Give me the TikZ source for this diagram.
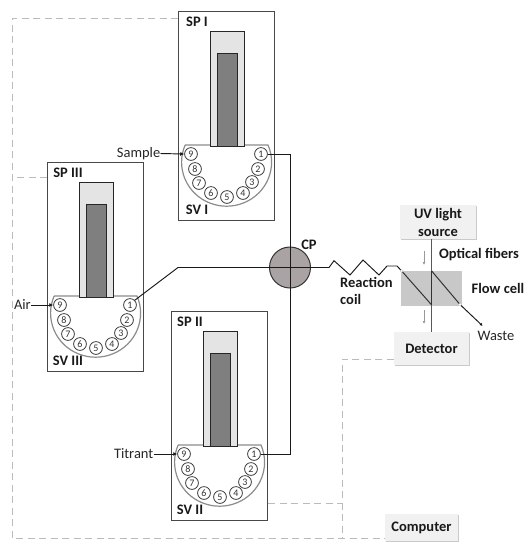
\documentclass[tikz,border=0pt]{standalone}
\usepackage{fontspec}
\setmainfont{Carlito}
\usetikzlibrary{arrows.meta,shadows}
\definecolor{boxline}{HTML}{484848}
\definecolor{valveline}{HTML}{8C8C8C}
\definecolor{barrel}{HTML}{E4E4E4}
\definecolor{plunger}{HTML}{7F7F7F}
\definecolor{cpfill}{HTML}{AAA3A3}
\definecolor{cellfill}{HTML}{C8C8C8}
\definecolor{boxfill}{HTML}{F1F1F1}
\definecolor{dashline}{HTML}{BBBBBB}
\tikzset{
  unitbox/.style={draw=boxline,line width=1pt,minimum width=96pt,minimum height=208.5pt,inner sep=0pt,anchor=north west},
  barrelbox/.style={draw=black!85,fill=barrel,line width=1pt,minimum width=34pt,minimum height=115pt,inner sep=0pt,anchor=north west},
  plungerbox/.style={draw=black!85,fill=plunger,line width=1pt,minimum width=20pt,minimum height=93pt,inner sep=0pt,anchor=north west},
  valveoutline/.style={draw=valveline,line width=1.2pt,fill=white},
  portnode/.style={circle,draw=black!85,line width=.7pt,fill=white,minimum size=12.8pt,inner sep=0pt,font=\fontsize{10}{10}\selectfont,text=black!80},
  boldlabel/.style={font=\fontsize{14.5}{16}\selectfont\bfseries,text=black!90,inner sep=0pt},
  plainlabel/.style={font=\fontsize{14.5}{16}\selectfont,text=black!85,inner sep=0pt},
  pipe/.style={draw=black!90,line width=.95pt},
  inflow/.style={pipe,-{Latex[length=4pt,width=4pt]}},
  ctrlline/.style={draw=dashline,line width=.9pt,dash pattern=on 7pt off 4.5pt},
  devicebox/.style={fill=boxfill,inner sep=0pt,align=center,font=\fontsize{14.5}{17}\selectfont\bfseries,text=black!90,
    drop shadow={shadow xshift=.5pt,shadow yshift=-1pt,fill=black!35,opacity=.6}},
  lightarrow/.style={draw=black!40,line width=.9pt,-{Latex[length=3pt,width=3pt]}},
  tubeend/.style={circle,fill=white,draw=black!25,line width=.3pt,minimum size=3pt,inner sep=0pt},
}
\newcommand{\pumpunit}[5]{%
  \begin{scope}[shift={(#1,#2)},name prefix=#3-]
    \node[unitbox] (box) at (0,0) {};
    \path[valveoutline] (7,134) -- (90,134) arc[start angle=-23,end angle=203,x radius=45,y radius=44];
    \node[barrelbox] (barrel) at (32,20) {};
    \node[plungerbox] (plunger) at (39,42) {};
    \node[boldlabel] (sp) at (#5,11) {SP #4};
    \node[boldlabel] (sv) at (#5,199) {SV #4};
    \foreach \n/\px/\py in {9/13/143,8/17/158,7/21/172,6/33/182,5/49/186,4/65/182,3/74/171,2/80/158,1/83/143}
      \node[portnode] (p\n) at (\px,\py) {\n};
  \end{scope}}
\begin{document}
\begin{tikzpicture}[x=1pt,y=-1pt]
\useasboundingbox (0,0) rectangle (531,550);
% control wiring
\coordinate (leftTop) at (12,18);
\coordinate (leftBottom) at (12,538);
\coordinate (midTop) at (342,359);
\coordinate (midJoin) at (342,503);
\coordinate (midBottom) at (342,538);
\coordinate (leftMid) at (12,177);
% pump units
\pumpunit{178}{11}{I}{I}{19}
\pumpunit{47}{162}{III}{III}{21}
\pumpunit{171}{311}{II}{II}{19}
% devices
\node[devicebox,minimum width=76pt,minimum height=34pt] (uv) at (438,222) {UV light\\[1pt]source};
\node[devicebox,minimum width=75pt,minimum height=33pt] (det) at (431.5,348.5) {Detector};
\node[devicebox,minimum width=73pt,minimum height=27pt] (comp) at (421.5,527.5) {Computer};
% control lines
\draw[ctrlline] (I-box.west |- leftTop) -- (leftTop) -- (leftBottom) -- (comp.west |- leftBottom);
\draw[ctrlline] (III-box.west |- leftMid) -- (leftMid);
\draw[ctrlline] (II-box.east |- midJoin) -- (midJoin);
\draw[ctrlline] (det.west |- midTop) -- (midTop) -- (midBottom);
% flow cell
\node[fill=cellfill,minimum width=61pt,minimum height=35.5pt,inner sep=0pt] (cell) at (431.7,288.5) {};
\coordinate (cellIn) at (401.7,271);
\coordinate (cellTurnA) at (431.7,305);
\coordinate (cellTurnB) at (431.7,271);
\coordinate (cellOut) at (460,304.5);
\coordinate (wasteEnd) at (482.7,326);
\draw[draw=black!65,line width=1pt] (uv.south -| cellTurnA) -- (cellTurnB);
\draw[draw=black!65,line width=1pt] (cellTurnA) -- (det.north -| cellTurnA);
\draw[draw=black!80,line width=1pt] (cellTurnB) -- (cellTurnA);
\draw[draw=black!80,line width=1pt] (cellIn) -- (cellTurnA);
\draw[draw=black!80,line width=1pt] (cellTurnB) -- (cellOut);
\draw[pipe,-{Latex[length=3pt,width=3pt]}] (cellOut) -- (wasteEnd);
\coordinate (upperA) at (424,251);
\coordinate (upperB) at (424,265);
\coordinate (lowerA) at (424,310);
\coordinate (lowerB) at (424,324);
\draw[lightarrow] (upperA) -- (upperB);
\draw[lightarrow] (lowerA) -- (lowerB);
% connecting valve
\node[circle,draw=black!80,fill=cpfill,line width=1pt,minimum size=41pt,inner sep=0pt] (cp) at (290,267.5) {};
\coordinate (bend) at (178,267.5);
\draw[pipe] (I-p1.east) -| (cp.center);
\draw[pipe] (II-p1.east) -| (cp.center);
\draw[pipe] (III-p1.north east) -- (bend) -- (cp.center);
\draw[pipe] (cp.center) -- (329,267.5) -- (334,260.7) -- (350,275) -- (363,260) -- (379,275) -- (387,266) -- (397,266) -- (cellIn);
\node[tubeend] (endIn) at (cellIn) {};
\node[tubeend] (endOut) at (cellOut) {};
% inlets
\node[plainlabel,anchor=east] (sample) at (160.5,153.5) {Sample};
\node[plainlabel,anchor=east] (air) at (31,305) {Air};
\node[plainlabel,anchor=east] (titrant) at (153.5,454) {Titrant};
\draw[inflow] (sample.east) -- (I-p9.west);
\draw[inflow] (air.east) -- (III-p9.west);
\draw[inflow] (titrant.east) -- (II-p9.west);
% labels
\node[boldlabel] (cpl) at (309,245) {CP};
\node[boldlabel,align=left,anchor=north west] (coil) at (340,277.5) {Reaction\\[1pt]coil};
\node[boldlabel] (fibers) at (479,255) {Optical fibers};
\node[boldlabel] (flow) at (498,288) {Flow cell};
\node[plainlabel] (waste) at (496,336) {Waste};
\end{tikzpicture}
\end{document}
